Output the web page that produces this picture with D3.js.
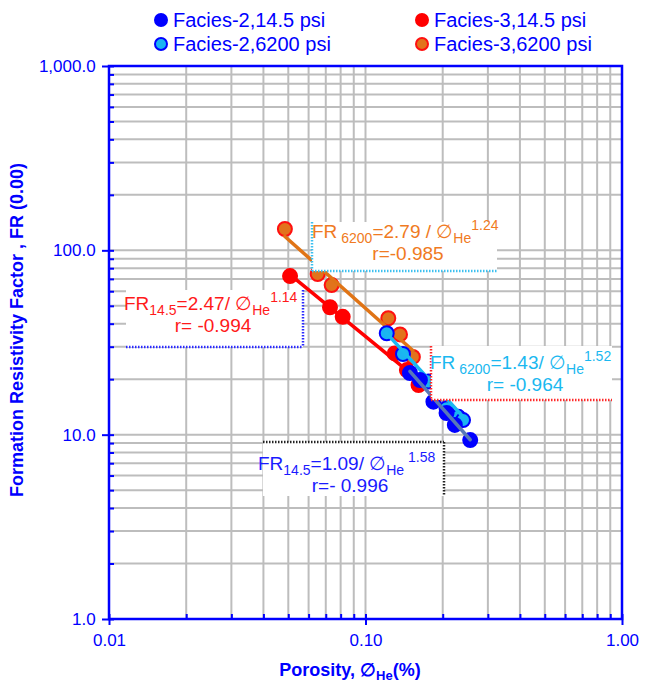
<!DOCTYPE html>
<html>
<head>
<meta charset="utf-8">
<script src="https://cdn.jsdelivr.net/npm/d3@7"></script>
<style>
  body { margin: 0; background: #fff; }
  text { font-family: "Liberation Sans", Arial, Helvetica, sans-serif; }
</style>
</head>
<body>
<div id="chart"></div>
<script>
// == data
const seriesNames = ["Facies-2,14.5 psi", "Facies-2,6200 psi", "Facies-3,14.5 psi", "Facies-3,6200 psi"];

const f2lowPhi  = [0.149, 0.163, 0.184, 0.207, 0.223, 0.256];
const f2lowFR   = [21.6, 19.8, 15.1, 13.1, 11.3, 9.35];
const f2highPhi = [0.121, 0.140, 0.176, 0.207, 0.230, 0.240];
const f2highFR  = [35.5, 27.4, 19.4, 13.9, 12.5, 12.0];
const f3lowPhi  = [0.0508, 0.0727, 0.0815, 0.130, 0.145, 0.161];
const f3lowFR   = [72.5, 49.1, 43.6, 27.6, 22.4, 18.6];
const f3highPhi = [0.0485, 0.0651, 0.0738, 0.1227, 0.1363, 0.153];
const f3highFR  = [130.5, 74.4, 64.8, 42.8, 35.0, 26.4];

// power fits FR = a / phi^b, same order as seriesNames
const fitA = [1.09, 1.43, 2.47, 2.79];
const fitB = [1.58, 1.52, 1.14, 1.24];
const fitR = ["r=- 0.996", "r= -0.964", "r= -0.994", "r=-0.985"];
const fitP = ["14.5", "6200", "14.5", "6200"];

const xTicks = [0.01, 0.1, 1];
const yTicks = [1, 10, 100, 1000];

const W = 645, H = 684;
const MARGIN = { TOP: 66, BOTTOM: 65, LEFT: 109, RIGHT: 23 };
const BLUE = "#0000ff";

const svg = d3.select("#chart").append("svg")
    .attr("width", W).attr("height", H);

const x = d3.scaleLog().domain([0.01, 1]).range([MARGIN.LEFT, W - MARGIN.RIGHT]);
const y = d3.scaleLog().domain([1, 1000]).range([H - MARGIN.BOTTOM, MARGIN.TOP]);

// gridlines, every 1..9 of each decade
const grid = svg.append("g").attr("stroke", "#bdbdbd").attr("stroke-width", 2);
grid.selectAll(".gx").data(x.ticks()).enter().append("line")
    .attr("x1", d => x(d)).attr("x2", d => x(d))
    .attr("y1", y(1)).attr("y2", y(1000));
grid.selectAll(".gy").data(y.ticks()).enter().append("line")
    .attr("y1", d => y(d)).attr("y2", d => y(d))
    .attr("x1", x(0.01)).attr("x2", x(1));

// one entry per series, drawn back to front
const series = [
  { phi: f3highPhi, fr: f3highFR, fill: "#e2731c", stroke: "#ff1010", line: "#e07416", r: 7, k: 3 },
  { phi: f3lowPhi,  fr: f3lowFR,  fill: "#ff0000", stroke: "#ff0000", line: "#ff0000", r: 7, k: 2 },
  { phi: f2highPhi, fr: f2highFR, fill: "#1ab4f2", stroke: "#0000ff", line: "#1ab8f0", r: 7, k: 1 },
  { phi: f2lowPhi,  fr: f2lowFR,  fill: "#0000ff", stroke: "#0000ff", line: "#5878b8", r: 7, k: 0 }
];

series.forEach(s => {
  const pts = s.phi.map((p, i) => [p, s.fr[i]]);
  svg.append("g").selectAll("circle").data(pts).enter().append("circle")
      .attr("cx", d => x(d[0])).attr("cy", d => y(d[1]))
      .attr("r", s.r)
      .attr("fill", s.fill)
      .attr("stroke", s.stroke).attr("stroke-width", 2);

  const x0 = d3.min(s.phi), x1 = d3.max(s.phi);
  const f = p => fitA[s.k] / Math.pow(p, fitB[s.k]);
  svg.append("line")
      .attr("x1", x(x0)).attr("y1", y(f(x0)))
      .attr("x2", x(x1)).attr("y2", y(f(x1)))
      .attr("stroke", s.line).attr("stroke-width", 3.5)
      .attr("stroke-linecap", "round");
});

// equation boxes: white rect, two dotted edges, two text lines
const boxes = [
  { k: 3, b: [312, 222, 185, 49], edges: ["left", "bottom"], bc: "#3cc0f0", tc: "#f07a22", tx: 312, ty: 238, cx: 408, sp: true, sup: false },
  { k: 2, b: [126, 290, 177, 57], edges: ["right", "bottom"], bc: "#2a2aff", tc: "#ff1a1a", tx: 124, ty: 310, cx: 213, sp: false, sup: false },
  { k: 1, b: [431, 346, 181, 54], edges: ["left", "bottom"], bc: "#ff2a2a", tc: "#1ab8f0", tx: 430, ty: 369, cx: 525, sp: true, sup: false },
  { k: 0, b: [263, 442, 181, 54], edges: ["top", "right"], bc: "#222222", tc: "#1a1aff", tx: 258, ty: 470, cx: 350, sp: false, sup: true }
];

boxes.forEach(bx => {
  const [bxX, bxY, bw, bh] = bx.b;
  const g = svg.append("g");
  g.append("rect").attr("x", bxX).attr("y", bxY).attr("width", bw).attr("height", bh)
      .attr("fill", "#fff");
  const seg = {
    left:   [bxX, bxY, bxX, bxY + bh],
    right:  [bxX + bw, bxY, bxX + bw, bxY + bh],
    top:    [bxX, bxY, bxX + bw, bxY],
    bottom: [bxX, bxY + bh, bxX + bw, bxY + bh]
  };
  bx.edges.forEach(e => {
    const c = seg[e];
    g.append("line").attr("x1", c[0]).attr("y1", c[1]).attr("x2", c[2]).attr("y2", c[3])
        .attr("stroke", bx.bc).attr("stroke-width", 2.5).attr("stroke-dasharray", "1.5,1.5");
  });

  const t = g.append("text").attr("x", bx.tx).attr("y", bx.ty)
      .attr("fill", bx.tc).style("font-size", "19px");
  t.append("tspan").text("FR");
  t.append("tspan").attr("dy", 5).style("font-size", "14px").text((bx.sp ? " " : "") + fitP[bx.k]);
  t.append("tspan").attr("dy", -5).text("=" + fitA[bx.k].toFixed(2) + (bx.k == 3 ? " / " : "/ ") + "\u2205");
  t.append("tspan").attr("dy", 5).style("font-size", "14px").text("He");
  t.append("tspan").attr("dy", -13).style("font-size", "14px").text((bx.sup ? " " : "") + fitB[bx.k].toFixed(2));

  g.append("text").attr("x", bx.cx).attr("y", bx.ty + 22)
      .attr("text-anchor", "middle").attr("fill", bx.tc)
      .style("font-size", "19px").text(fitR[bx.k]);
});

// axes
const xAxisCall = d3.axisBottom(x).tickValues(xTicks).tickSize(6).tickFormat(d3.format(".2f"));
const xAxisGroup = svg.append("g").attr("transform", `translate(0, ${y(1)})`).call(xAxisCall);
const xMinor = svg.append("g").attr("transform", `translate(0, ${y(1)})`)
    .call(d3.axisTop(x).tickValues(x.ticks()).tickSize(5).tickFormat(""));

const yAxisCall = d3.axisLeft(y).tickValues(yTicks).tickSize(7).tickFormat(d3.format(",.1f"));
const yAxisGroup = svg.append("g").attr("transform", `translate(${x(0.01)}, 0)`).call(yAxisCall);
const yMinor = svg.append("g").attr("transform", `translate(${x(0.01)}, 0)`)
    .call(d3.axisRight(y).tickValues(y.ticks()).tickSize(5).tickFormat(""));

[xAxisGroup, xMinor, yAxisGroup, yMinor].forEach(a => {
  a.select(".domain").remove();
  a.selectAll("line").attr("stroke", BLUE).attr("stroke-width", 2);
  a.selectAll("text").attr("fill", BLUE).style("font-size", "17px")
      .style("font-family", "'Liberation Sans', Arial, sans-serif");
});
xAxisGroup.selectAll("text").attr("dy", "1.05em");
yAxisGroup.selectAll("text").attr("dx", "-0.2em");

// frame
svg.append("rect")
    .attr("x", x(0.01)).attr("y", y(1000))
    .attr("width", x(1) - x(0.01)).attr("height", y(1) - y(1000))
    .attr("fill", "none").attr("stroke", BLUE).attr("stroke-width", 2.5);

// axis titles
const xt = svg.append("text").attr("x", 350).attr("y", 676)
    .attr("text-anchor", "middle").attr("fill", BLUE)
    .style("font-size", "18px").style("font-weight", "bold");
xt.append("tspan").text("Porosity, \u2205");
xt.append("tspan").attr("dy", 4).style("font-size", "13px").text("He");
xt.append("tspan").attr("dy", -4).text("(%)");

svg.append("text")
    .attr("transform", "translate(23, 330) rotate(-90)")
    .attr("text-anchor", "middle").attr("fill", BLUE)
    .style("font-size", "18px").style("font-weight", "bold")
    .text("Formation Resistivity Factor , FR (0.00)");

// legend
const legendFill = ["#0000ff", "#1ab4f2", "#ff0000", "#e2731c"];
const legendStroke = ["#0000ff", "#0000ff", "#ff0000", "#ff1010"];
const legendPos = [[161, 20], [161, 44], [422, 20], [422, 44]];
const legend = svg.append("g");
seriesNames.forEach((name, i) => {
  const [lx, ly] = legendPos[i];
  legend.append("circle").attr("cx", lx).attr("cy", ly).attr("r", 6)
      .attr("fill", legendFill[i]).attr("stroke", legendStroke[i]).attr("stroke-width", 2);
  legend.append("text").attr("x", lx + 12).attr("y", ly + 7)
      .attr("fill", BLUE).style("font-size", "20px").text(name);
});
</script>
</body>
</html>
